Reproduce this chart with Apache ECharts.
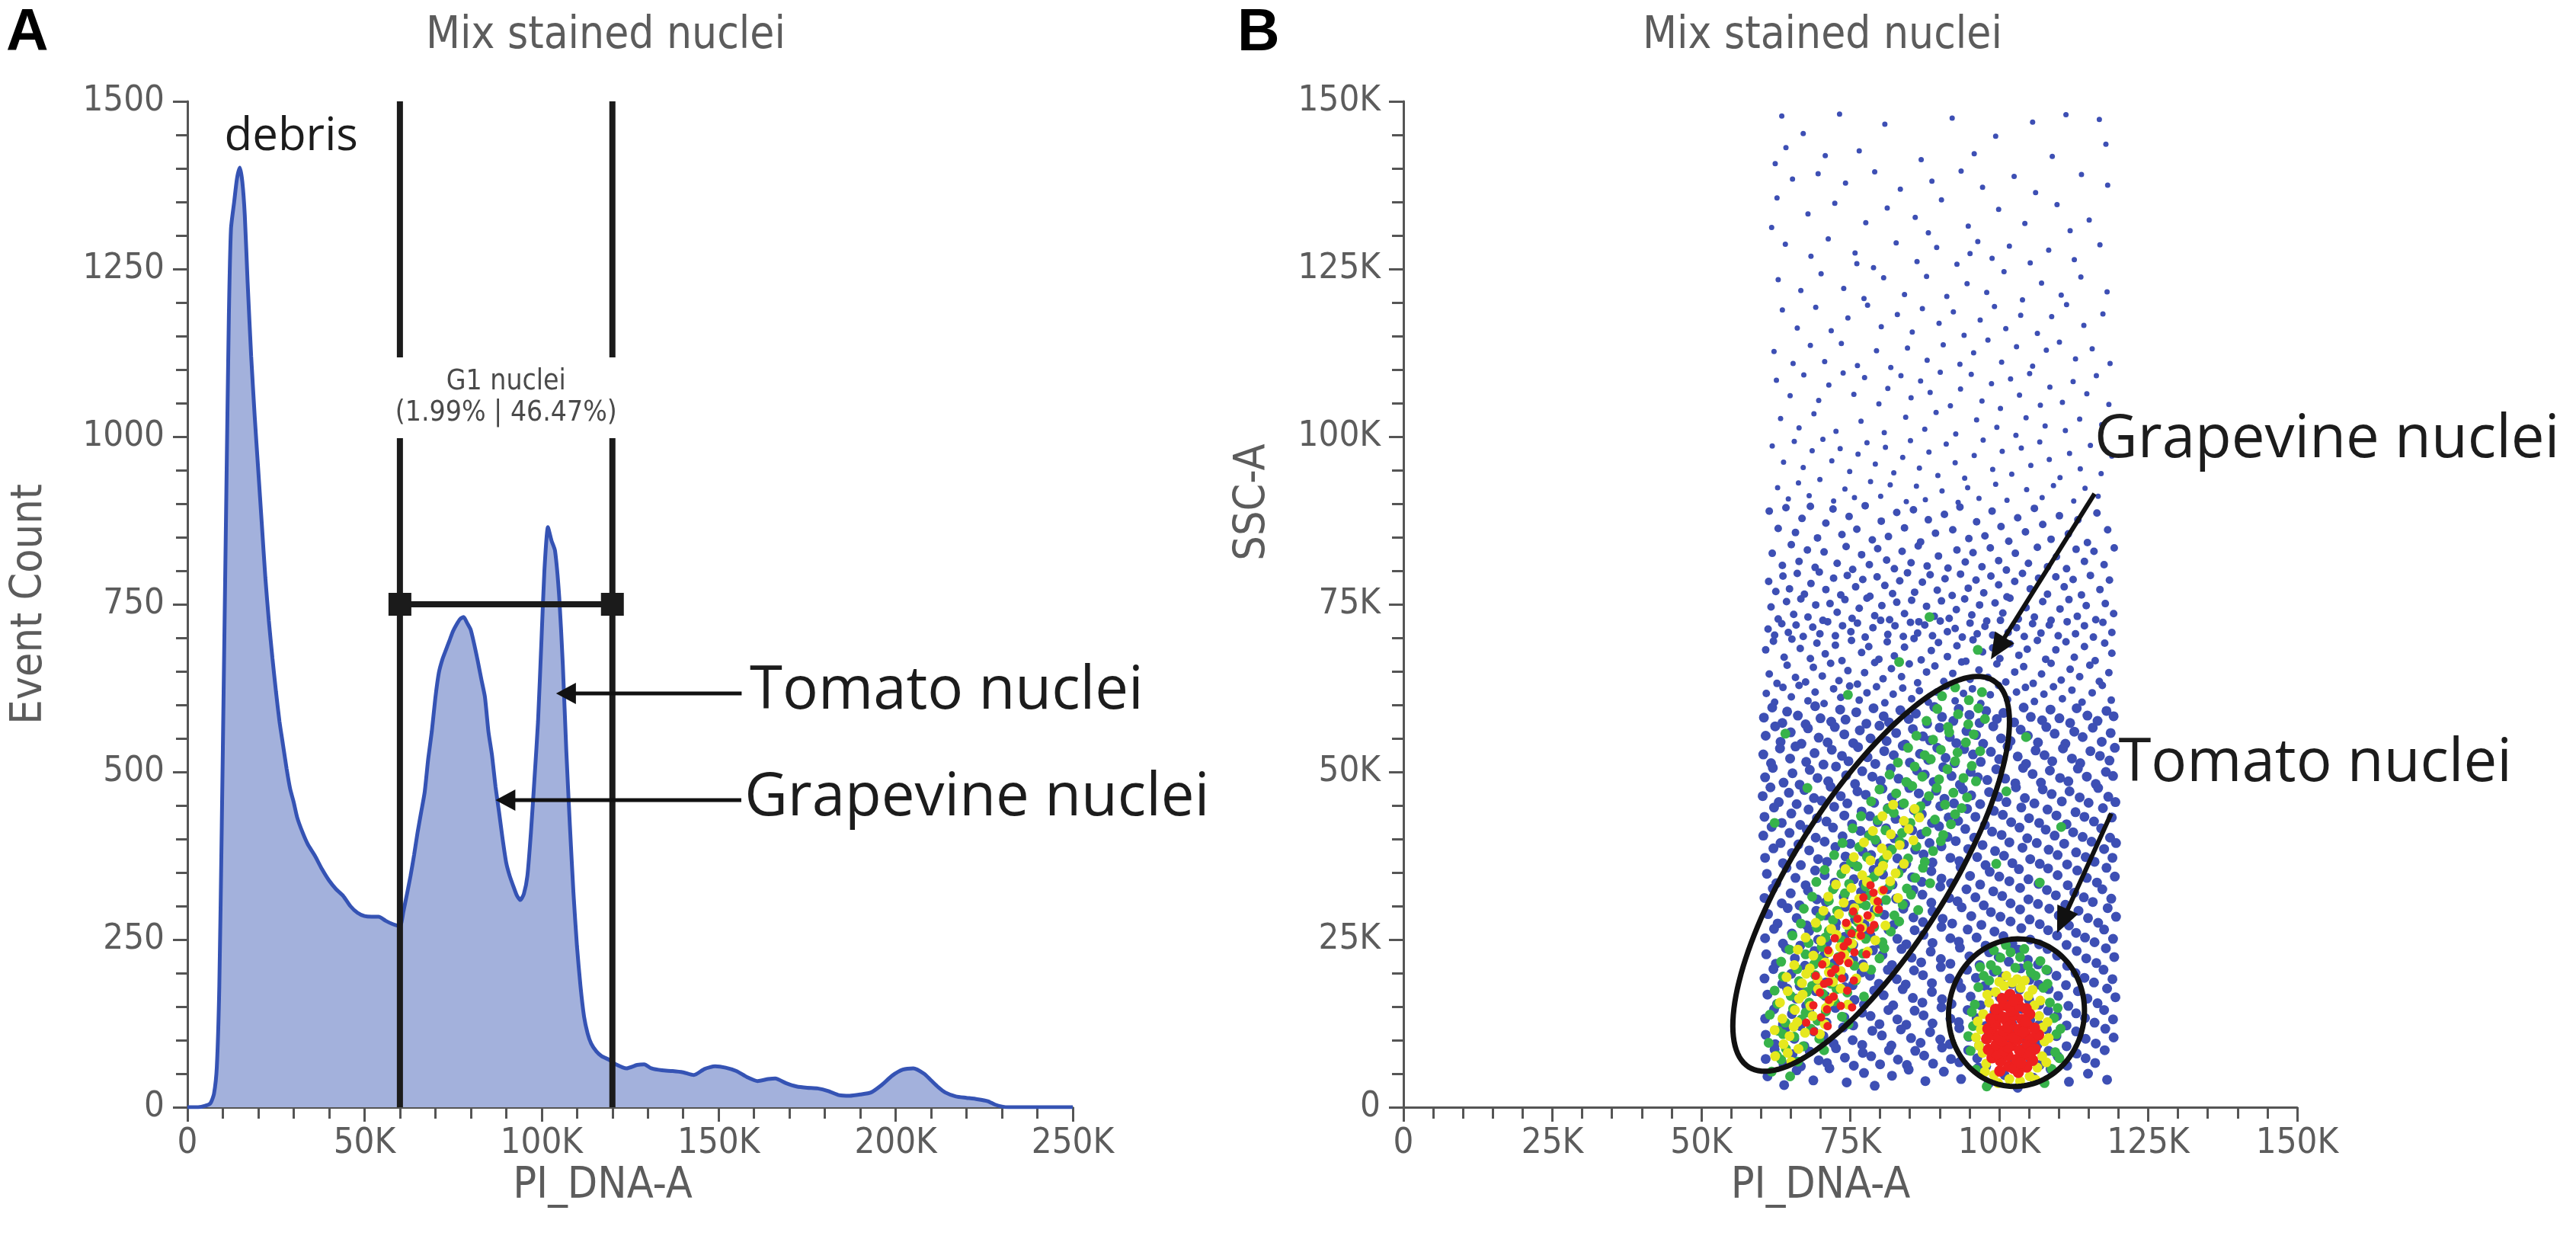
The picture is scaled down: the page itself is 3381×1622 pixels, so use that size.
<!DOCTYPE html>
<html>
<head>
<meta charset="utf-8">
<script src="https://cdn.jsdelivr.net/npm/echarts@6/dist/echarts.min.js"></script>
<style>
  html, body { margin: 0; padding: 0; background: #fff; }
  #main { width: 3381px; height: 1622px; }
</style>
</head>
<body>
<div id="main"></div>
<script>
// ---------- panel A : histogram (PI_DNA-A in K, event count) ----------
var histX = [0,3,5,6.5,7.5,8.3,9,9.7,10.3,11,
  11.7,12.3,13.2,14,14.8,15.5,16.2,17,18,19,
  20,21,22,23,24,25,26,27,28,29,
  30,31,32.5,34,36,38,40,42,44,46,
  48,50,52,54,56,58,60,61,62,63,
  64,65,66,67,68,69,70,71,72,73,
  74,75,76,77,78,79,80,81,82,83,
  84,85,86,87,88,89,90,91,92,93,
  94,95,96,97,98,99,100,100.8,101.8,102.8,
  103.8,105,106,107,108,109,110,111,112,113,
  114,115.5,117,119,121,124,127,129,131,134,
  137,140,143,146,149,152,155,158,161,164,
  166,169,172,175,178,181,184,187,190,193,
  196,199,202,205,208,210,212,214,217,220,
  223,226,228,230,232,250];
var histCount = [0,0,2,6,20,60,180,420,650,920,
  1180,1310,1350,1385,1401,1380,1330,1230,1120,1030,
  950,870,790,725,670,620,575,540,505,475,
  455,432,410,392,375,355,338,325,315,300,
  290,285,284,284,278,273,270,292,318,345,
  376,410,440,470,520,560,610,648,668,682,
  696,710,720,728,731,722,712,690,665,638,
  612,560,525,478,440,400,365,345,330,316,
  309,318,345,410,490,575,700,800,865,845,
  830,760,660,530,420,320,240,180,135,110,
  95,83,76,71,64,58,63,64,58,55,
  54,52,48,57,61,59,54,45,39,42,
  43,36,31,29,28,24,18,17,19,22,
  33,47,56,58,50,40,30,22,16,14,
  12,9,4,1,0,0];

var histTicksY = [0, 1500, 250];      // min, max, step
var histTicksX = [0, 250, 50];        // in K

// G1 gate: low, high, bar level, top
var gateG1 = [60, 120, 750, 1500];
var gateG1Label = 'G1 nuclei\n(1.99% | 46.47%)';
var gateG1LabelAt = [90, 1058];

var noteAText = ['debris', 'Tomato nuclei', 'Grapevine nuclei'];
var noteAX = [29.3, 158.8, 157.3];
var noteAY = [1447, 620, 460];
// arrows: x1, y1 (tail) -> x2, y2 (head)
var arrowsA = [[156.5, 617, 104.1, 617], [156.4, 458, 87.0, 458]];

// ---------- panel B : PI_DNA-A vs SSC-A dot plot (both in K) ----------
var dotTicks = [0, 150, 25];

var blueSparse = [
[63.5,147.8],[73.2,148.1],[80.8,146.6],[92.1,147.5],[105.6,146.9],[111.2,148],[67.1,145.2],[99.4,144.8],[116.8,147.3],[64.2,143.1],[76.5,142.6],[86.9,141.3],[62.4,140.7],[70.8,141.9],[95.8,142.2],[108.9,141.8],[117.9,143.6],
[65.3,138.4],[69.6,139.2],[74.2,137.8],[79.1,139.5],[83.4,136.9],[88.7,138.1],[93.6,139.6],[97.2,137.2],[102.5,138.8],[106.1,136.4],[113.8,139.1],[118.2,137.5],[62.7,135.6],[67.9,133.2],[72.4,134.8],[77.6,131.9],[81.2,134.1],[85.9,132.7],[90.3,135.3],[94.8,131.4],[99.9,133.9],[104.3,131.8],[109.7,134.6],[115.1,132.3],[61.8,131.2],[88.1,130.4],[111.9,130.7],
[64.1,128.7],[68.4,126.9],[71.3,129.5],[75.8,127.4],[78.9,125.2],[82.7,128.9],[86.2,126.1],[89.5,128.2],[92.9,125.7],[96.4,129.1],[98.8,126.6],[101.7,128.4],[105.2,125.9],[108.3,127.8],[112.6,126.4],[116.9,128.6],[62.9,123.4],[66.7,121.8],[70.1,124.3],[73.9,122.1],[77.3,120.6],[80.6,123.7],[84.1,121.2],[87.8,123.9],[91.2,120.9],[94.6,122.8],[97.9,121.5],[100.8,124.6],[103.9,120.4],[107.1,122.9],[110.4,121.1],[113.7,123.8],[118.1,121.6],[76.1,125.8],[95.1,127.3],
[63.6,118.9],[66.1,116.2],[69.2,119.3],[71.8,115.8],[74.6,117.7],[77.9,119.6],[80.2,116.4],[82.9,118.2],[85.4,115.6],[87.1,119.1],[89.9,116.9],[92.3,118.6],[94.1,115.1],[96.8,117.4],[99.2,119.4],[101.1,116.1],[103.6,118.1],[106.4,115.4],[108.8,117.9],[111.3,119.7],[114.2,116.6],[117.4,118.3],[62.2,112.7],[65.4,110.9],[68.3,113.6],[70.7,111.2],[73.5,113.9],[76.2,110.6],[79.4,112.8],[81.8,110.3],[84.6,113.2],[87.9,111.4],[90.6,113.7],[93.4,110.8],[95.7,112.5],[98.1,114.4],[100.4,111.1],[102.9,113.4],[105.6,110.5],[107.9,112.9],[110.1,114.1],[112.8,111.6],[115.6,113.1],[118.6,110.9],
[62.6,108.4],[64.9,106.1],[67.2,109.2],[69.7,105.4],[71.4,107.7],[73.8,109.5],[75.6,106.3],[77.4,108.8],[79.8,104.9],[81.3,107.2],[83.5,109.1],[85.2,105.8],[86.8,108.3],[88.4,106.6],[90.1,109.6],[91.8,104.6],[93.5,107.1],[95.3,109.3],[97.1,105.3],[98.7,107.9],[100.2,104.2],[101.9,108.6],[103.4,106.2],[105.1,109.4],[106.9,104.7],[108.5,107.4],[110.6,105.1],[112.4,108.2],[114.7,106.4],[116.3,109.1],[118.4,104.8],[63.3,102.7],[66.4,101.3],[68.9,103.4],[72.6,100.8],[76.8,102.3],[80.7,100.6],[84.3,102.9],[87.5,101.1],[89.4,103.6],[92.7,100.4],[96.2,102.5],[99.6,101.4],[102.8,100.2],[104.5,102.8],[107.7,101.6],[111.1,100.9],[113.5,102.6],[117.2,101.8],
[61.9,98.6],[63.8,96.2],[65.6,99.3],[67.1,95.4],[68.6,97.9],[70.4,99.6],[71.9,96.4],[73.3,98.2],[74.9,94.8],[76.3,97.4],[77.8,99.1],[79.2,95.9],[80.9,98.4],[82.3,94.6],[83.8,96.9],[85.1,99.4],[86.6,95.3],[88.2,97.7],[89.7,94.2],[91.1,98.9],[92.6,96.1],[94.2,93.8],[95.8,97.2],[97.3,99.5],[98.9,95.1],[100.5,97.8],[102.1,94.4],[103.7,98.3],[105.3,95.7],[106.8,99.2],[108.4,96.6],[110.2,93.9],[111.8,97.5],[113.6,95.2],[115.3,98.7],[117.1,94.5],[118.9,97.1],[62.8,92.4],[64.6,90.7],[66.3,93.1],[68.1,91.2],[69.9,93.6],[72.2,90.4],[74.1,92.2],[75.7,90.9],[78.4,93.3],[80.1,91.1],[81.7,92.8],[84.4,90.3],[86.1,92.6],[87.6,90.6],[90.4,91.9],[93.1,90.2],[94.7,92.4],[96.6,90.8],[99.4,92.9],[101.3,90.5],[104.6,92.1],[107.2,90.9],[109.1,92.7],[112.5,90.4],[114.4,92.3],[116.6,91.1]
];

var blueMid = [
[61.4,88.9],[62.9,86.3],[64.2,89.4],[65.8,85.7],[66.9,87.8],[68.3,89.6],[69.5,84.9],[70.9,87.1],[72.1,89.2],[73.6,85.4],[74.8,88.1],[76.1,86.2],[77.5,89.7],[78.7,84.6],[80.2,87.4],[81.4,85.1],[82.8,88.7],[84.1,86.4],[85.6,89.1],[86.8,84.3],[88.1,87.6],[89.3,85.6],[90.8,88.4],[92.2,86.1],[93.4,89.5],[94.9,84.8],[96.2,87.3],[97.6,85.2],[98.8,88.9],[100.3,86.6],[101.6,84.4],[103.1,87.9],[104.4,85.8],[105.9,89.3],[107.3,86.9],[108.7,84.7],[110.1,88.2],[111.6,85.5],[113.2,87.6],[114.8,84.2],[116.4,88.6],[118.2,86.1],[119.3,83.4],
[61.9,82.6],[63.6,80.8],[65.1,83.9],[66.4,81.4],[67.8,83.1],[69.1,80.5],[70.6,82.8],[72.8,81.1],[74.3,83.6],[75.4,80.2],[76.9,82.4],[78.2,80.9],[79.6,83.3],[81.1,81.6],[82.4,80.3],[83.7,82.9],[85.2,81.2],[86.4,83.7],[87.9,80.7],[89.8,82.2],[91.4,80.4],[92.9,83.1],[94.3,81.3],[95.6,82.7],[97.1,80.6],[98.5,83.4],[99.9,81.5],[101.2,80.1],[102.7,82.6],[104.9,81.1],[106.4,83.5],[108.1,80.6],[109.6,82.1],[111.3,80.3],[112.9,83.2],[114.3,81.4],[115.9,82.9],[117.6,80.9],
[61.3,78.4],[62.5,76.9],[63.7,79.2],[64.8,77.3],[66.1,79.6],[67.3,76.5],[68.4,78.1],[69.8,79.8],[70.9,77.2],[72.2,78.9],[73.4,76.4],[74.5,79.3],[75.9,77.6],[77.1,78.7],[78.3,76.2],[79.5,79.1],[80.8,77.8],[82.1,76.6],[83.3,78.5],[84.6,79.7],[85.8,76.8],[87.1,78.3],[88.4,79.4],[89.6,77.1],[90.9,78.8],[92.1,76.3],[93.5,79.5],[94.8,77.4],[96.1,78.6],[97.4,76.7],[98.6,79.2],[99.9,77.9],[101.3,76.1],[102.6,78.4],[103.9,79.6],[105.2,77.3],[106.6,78.9],[108.1,76.5],[109.5,79.1],[110.9,77.6],[112.4,78.7],[113.8,76.4],[115.3,79.3],[116.9,77.2],[118.5,78.6],
[61.7,74.6],[62.9,72.8],[64.3,75.4],[65.5,73.5],[66.7,75.8],[67.9,73.1],[69.2,74.9],[70.4,72.6],[71.6,75.1],[72.8,73.8],[74.1,75.7],[75.3,72.9],[76.5,74.4],[77.8,75.9],[79.1,73.3],[80.3,74.8],[81.6,72.7],[82.8,75.3],[84.1,73.6],[85.3,75.6],[86.5,72.4],[87.8,74.7],[89.1,73.2],[90.3,75.5],[91.6,72.9],[92.8,74.2],[94.2,75.8],[95.4,73.4],[96.7,74.9],[97.9,72.5],[99.3,75.2],[100.6,73.7],[101.8,75.9],[103.2,72.8],[104.5,74.5],[105.9,73.1],[107.3,75.4],[108.7,72.6],[110.2,74.3],[111.7,75.7],[113.1,73.2],[114.6,74.8],[116.2,72.7],[117.8,75.1],[119.2,73.6],
[61.2,71.3],[62.3,70.4],[63.5,72.1],[64.6,70.8],[65.9,71.9],[67.1,70.2],[68.7,71.6],[69.9,70.6],[71.2,72.4],[72.5,70.3],[73.7,71.8],[75.1,70.9],[76.2,72.2],[77.5,70.1],[78.8,71.5],[80.1,72.6],[81.3,70.5],[82.5,71.8],[83.9,70.2],[85.1,72.3],[86.3,70.7],[87.5,71.9],[88.8,70.3],[90.1,72.5],[91.3,70.9],[92.6,71.4],[93.8,70.1],[95.1,72.2],[96.3,70.6],[97.6,71.7],[98.9,70.4],[100.2,72.6],[101.5,70.8],[102.9,71.5],[104.2,70.2],[105.6,72.1],[107.0,70.7],[108.4,71.9],[109.9,70.3],[111.4,72.4],[112.8,70.6],[114.3,71.8],[115.8,70.1],[117.4,72.3],[118.9,70.8],
[60.8,68.2],[62.1,69.5],[63.9,67.1],[65.2,69.8],[66.6,68.4],[68.3,66.9],[69.4,69.2],[70.8,67.6],[72.5,68.9],[73.6,66.6],[75.2,69.6],[76.9,67.8],[78.1,68.7],[79.8,66.8],[81.2,69.4],[82.4,67.3],[84.1,68.6],[85.7,69.9],[86.9,66.7],[88.6,68.1],[89.8,69.3],[91.3,67.2],[92.9,68.8],[94.4,66.5],[95.6,69.7],[97.2,67.9],[98.9,68.5],[100.1,66.9],[101.8,69.1],[103.3,67.4],[104.7,68.3],[106.4,69.6],[107.8,66.8],[109.5,68.2],[111.2,69.4],[112.6,67.1],[114.3,68.7],[116.1,66.6],[117.7,69.2],[118.9,67.7],
[61.4,64.6],[62.7,63.2],[64.4,65.9],[65.8,64.1],[67.5,63.4],[68.8,65.6],[70.3,64.3],[71.7,66.2],[73.1,63.6],[74.6,65.1],[76.2,63.1],[77.4,64.8],[79.1,66.3],[80.5,63.9],[81.9,65.4],[83.6,64.2],[84.9,66.1],[86.3,63.3],[87.8,64.9],[89.2,65.8],[90.7,63.5],[92.2,64.7],[93.7,66.4],[95.1,63.8],[96.6,65.2],[98.1,64.1],[99.6,66.1],[101.1,63.4],[102.6,64.9],[104.1,65.7],[105.7,63.2],[107.1,64.6],[108.7,66.2],[110.4,63.7],[111.9,65.3],[113.5,64.2],[115.2,65.9],[116.8,63.5],[118.4,64.8],
[60.9,61.7],[62.3,60.4],[63.7,62.6],[65.1,61.2],[66.4,62.9],[67.9,60.6],[69.1,61.9],[70.6,60.2],[72.2,62.4],[73.4,61.1],[74.9,62.8],[76.5,60.7],[77.8,61.8],[79.4,62.7],[80.8,60.3],[82.2,61.6],[83.8,62.5],[85.3,60.9],[86.6,62.1],[88.1,60.4],[89.5,61.9],[91.1,62.8],[92.6,60.6],[94.0,61.7],[95.5,62.4],[96.9,60.2],[98.5,61.5],[99.9,62.9],[101.4,60.8],[102.9,61.9],[104.4,62.6],[105.9,60.5],[107.5,61.6],[109.1,62.7],[110.6,60.9],[112.2,62.2],[113.9,60.4],[115.6,61.8],[117.3,62.9],[118.8,60.7]
];

var blueDense = [
[60.5,58.1],[61.9,59.6],[63.6,57.3],[64.4,59.0],[66.2,58.4],[67.5,57.1],[69.1,59.8],[70.0,58.0],[71.8,57.5],[73.3,59.3],[74.2,57.8],[76.0,58.9],[77.7,57.2],[78.9,59.5],[80.6,58.3],[81.5,57.4],[83.4,59.2],[84.8,57.9],[86.0,58.7],[87.9,57.2],[89.1,59.7],[90.4,58.2],[92.3,57.6],[93.2,59.4],[95.0,58.5],[96.7,57.3],[97.8,59.1],[99.6,57.9],[100.7,58.8],[102.5,57.4],[104.1,59.6],[105.3,58.2],[107.2,57.7],[108.6,59.3],[110.1,58.0],[111.9,57.3],[113.0,59.5],[114.8,58.4],[116.5,57.6],[118.0,59.1],[119.2,58.3],
[60.8,55.4],[62.4,56.8],[63.3,54.5],[65.0,55.9],[66.8,54.2],[67.9,56.5],[69.7,55.1],[71.2,54.4],[72.4,56.7],[74.0,55.6],[75.5,54.3],[76.6,56.2],[78.4,55.0],[79.9,56.9],[81.1,54.6],[82.7,55.8],[84.2,54.1],[85.5,56.4],[87.2,55.3],[88.4,54.7],[90.0,56.6],[91.7,55.2],[92.8,54.3],[94.5,56.1],[96.1,55.5],[97.3,54.2],[99.0,56.8],[100.3,55.0],[101.9,54.6],[103.6,56.3],[104.8,55.4],[106.5,54.4],[107.9,56.7],[109.3,55.7],[111.1,54.2],[112.6,56.0],[114.0,55.2],[115.7,56.6],[117.2,54.5],[118.7,55.8],
[60.4,52.6],[61.7,51.3],[63.2,53.5],[64.9,52.0],[65.8,53.8],[67.6,51.5],[69.0,52.8],[70.5,51.1],[71.9,53.3],[73.6,52.4],[74.7,51.6],[76.3,53.7],[77.9,52.2],[79.2,51.2],[80.7,53.1],[82.3,52.5],[83.8,53.9],[85.0,51.4],[86.7,52.7],[88.1,51.8],[89.6,53.6],[91.0,52.1],[92.5,51.3],[94.1,53.4],[95.6,52.6],[96.9,51.5],[98.6,53.0],[100.0,51.9],[101.4,53.8],[103.1,52.3],[104.5,51.2],[106.1,53.2],[107.6,52.5],[108.9,51.6],[110.7,53.5],[112.2,52.0],[113.6,51.3],[115.3,53.1],[116.9,52.4],[118.5,51.7],[119.4,53.6],
[60.7,49.2],[62.0,50.6],[63.8,48.4],[65.3,49.8],[66.5,48.1],[68.2,50.3],[69.5,49.1],[71.3,48.6],[72.6,50.8],[74.3,49.5],[75.8,48.2],[77.0,50.1],[78.7,49.3],[80.1,48.7],[81.8,50.5],[83.1,49.0],[84.6,48.3],[86.2,50.2],[87.5,49.6],[89.0,48.5],[90.6,50.7],[92.0,49.4],[93.4,48.1],[95.2,50.0],[96.4,49.2],[98.0,48.8],[99.5,50.4],[101.0,49.0],[102.7,48.3],[104.0,50.6],[105.6,49.7],[107.0,48.4],[108.5,50.2],[110.2,49.1],[111.6,48.6],[113.2,50.5],[114.7,49.3],[116.2,48.2],[117.9,50.0],[119.1,49.4],
[60.3,46.4],[61.6,47.7],[63.0,45.5],[64.7,46.9],[66.0,45.2],[67.3,47.3],[68.9,46.1],[70.2,45.7],[71.7,47.8],[73.4,46.4],[74.5,45.3],[76.2,47.1],[77.6,46.6],[79.0,45.4],[80.4,47.5],[82.0,46.2],[83.6,45.1],[84.9,47.6],[86.5,46.8],[87.8,45.6],[89.4,47.2],[90.8,46.0],[92.4,45.3],[93.9,47.4],[95.3,46.5],[96.8,45.2],[98.3,47.0],[99.8,46.3],[101.2,45.5],[102.8,47.7],[104.3,46.1],[105.9,45.3],[107.3,47.4],[108.8,46.7],[110.5,45.6],[111.8,47.1],[113.5,46.2],[115.0,45.4],[116.6,47.6],[118.3,46.3],[119.5,45.5],
[60.6,43.3],[62.2,44.7],[63.5,42.4],[65.1,43.8],[66.6,42.1],[68.0,44.4],[69.4,43.1],[71.0,42.6],[72.3,44.8],[74.0,43.5],[75.3,42.2],[76.9,44.1],[78.3,43.4],[79.6,42.5],[81.3,44.6],[82.6,43.0],[84.3,42.3],[85.7,44.3],[87.0,43.7],[88.7,42.4],[90.1,44.9],[91.5,43.2],[93.1,42.7],[94.6,44.5],[96.0,43.3],[97.6,42.1],[99.1,44.2],[100.6,43.6],[102.0,42.5],[103.7,44.7],[105.0,43.1],[106.7,42.4],[108.1,44.4],[109.6,43.5],[111.3,42.2],[112.8,44.0],[114.3,43.3],[115.9,42.6],[117.4,44.6],[118.9,43.2],
[60.4,40.5],[61.8,41.8],[63.3,39.4],[64.8,40.9],[66.3,39.2],[67.7,41.4],[69.2,40.2],[70.7,39.6],[72.1,41.7],[73.7,40.4],[75.0,39.3],[76.7,41.2],[78.1,40.6],[79.4,39.5],[81.0,41.6],[82.4,40.1],[84.0,39.2],[85.4,41.3],[86.9,40.7],[88.3,39.4],[89.9,41.9],[91.3,40.3],[92.7,39.7],[94.3,41.5],[95.8,40.2],[97.2,39.1],[98.8,41.1],[100.4,40.6],[101.7,39.5],[103.4,41.7],[104.7,40.1],[106.3,39.4],[107.8,41.4],[109.3,40.5],[110.9,39.3],[112.4,41.0],[114.0,40.3],[115.5,39.6],[117.1,41.6],[118.6,40.2],[119.6,39.4],
[60.7,37.2],[62.1,38.6],[63.7,36.4],[65.2,37.9],[66.7,36.1],[68.1,38.3],[69.6,37.0],[71.1,36.6],[72.5,38.8],[74.2,37.4],[75.6,36.2],[77.1,38.1],[78.5,37.6],[79.9,36.4],[81.5,38.6],[82.9,37.1],[84.4,36.3],[85.9,38.4],[87.3,37.7],[88.8,36.5],[90.3,38.9],[91.8,37.2],[93.3,36.7],[94.8,38.5],[96.3,37.3],[97.7,36.1],[99.3,38.2],[100.8,37.5],[102.2,36.4],[103.9,38.7],[105.2,37.0],[106.8,36.3],[108.3,38.4],[109.8,37.6],[111.4,36.2],[112.9,38.0],[114.5,37.3],[116.0,36.6],[117.6,38.5],[119.0,37.2],
[61.0,34.8],[62.6,33.4],[64.3,35.7],[65.8,34.2],[67.5,33.1],[69.1,35.3],[70.7,34.6],[72.4,33.5],[74.0,35.9],[75.6,34.0],[77.2,33.3],[78.9,35.4],[80.5,34.7],[82.1,33.2],[83.7,35.6],[85.4,34.3],[87.0,33.6],[88.6,35.2],[90.3,34.1],[91.9,33.4],[93.5,35.8],[95.1,34.5],[96.8,33.2],[98.4,35.1],[100.0,34.4],[101.7,33.7],[103.3,35.5],[104.9,34.0],[106.6,33.3],[108.2,35.6],[109.8,34.6],[111.5,33.1],[113.1,35.3],[114.7,34.2],[116.4,33.5],[118.0,35.7],[119.4,34.4],
[60.6,31.2],[62.0,32.6],[63.5,30.4],[65.0,31.9],[66.5,30.1],[67.9,32.3],[69.4,31.0],[70.9,30.6],[72.3,32.8],[73.9,31.4],[75.3,30.2],[76.8,32.1],[78.2,31.6],[79.7,30.4],[81.2,32.5],[82.7,31.1],[84.2,30.3],[85.6,32.4],[87.1,31.7],[88.6,30.5],[90.1,32.9],[91.6,31.2],[93.0,30.7],[94.5,32.5],[96.0,31.3],[97.4,30.1],[99.0,32.2],[100.5,31.5],[101.9,30.4],[103.5,32.7],[104.9,31.0],[106.5,30.3],[108.0,32.4],[109.5,31.6],[111.1,30.2],[112.6,32.0],[114.2,31.3],[115.7,30.6],[117.3,32.5],[118.8,31.1],
[61.2,28.8],[62.8,27.4],[64.5,29.7],[66.0,28.2],[67.7,27.1],[69.3,29.3],[70.9,28.6],[72.6,27.5],[74.2,29.9],[75.8,28.0],[77.4,27.3],[79.1,29.4],[80.7,28.7],[82.3,27.2],[83.9,29.6],[85.6,28.3],[87.2,27.6],[88.8,29.2],[90.5,28.1],[92.1,27.4],[93.7,29.8],[95.3,28.5],[97.0,27.2],[98.6,29.1],[100.2,28.4],[101.9,27.7],[103.5,29.5],[105.1,28.0],[106.8,27.3],[108.4,29.6],[110.0,28.6],[111.7,27.1],[113.3,29.3],[114.9,28.2],[116.6,27.5],[118.2,29.7],[119.6,28.4],
[60.7,25.2],[62.2,26.6],[63.7,24.4],[65.2,25.9],[66.6,24.1],[68.1,26.3],[69.6,25.0],[71.1,24.6],[72.5,26.8],[74.0,25.4],[75.5,24.2],[77.0,26.1],[78.4,25.6],[79.9,24.4],[81.4,26.5],[82.9,25.1],[84.4,24.3],[85.8,26.4],[87.3,25.7],[88.8,24.5],[90.3,26.9],[91.8,25.2],[93.2,24.7],[94.7,26.5],[96.2,25.3],[97.7,24.1],[99.2,26.2],[100.7,25.5],[102.2,24.4],[103.7,26.7],[105.2,25.0],[106.7,24.3],[108.2,26.4],[109.7,25.6],[111.3,24.2],[112.9,26.0],[114.4,25.3],[116.0,24.6],[117.6,26.5],[119.1,25.1],
[60.9,22.8],[62.5,21.4],[64.2,23.7],[65.7,22.2],[67.4,21.1],[69.0,23.3],[70.6,22.6],[72.3,21.5],[73.9,23.9],[75.5,22.0],[77.1,21.3],[78.8,23.4],[80.4,22.7],[82.0,21.2],[83.6,23.6],[85.3,22.3],[86.9,21.6],[88.5,23.2],[90.2,22.1],[91.8,21.4],[93.4,23.8],[95.0,22.5],[96.7,21.2],[98.3,23.1],[99.9,22.4],[101.6,21.7],[103.2,23.5],[104.8,22.0],[106.5,21.3],[108.1,23.6],[109.7,22.6],[111.4,21.1],[113.0,23.3],[114.6,22.2],[116.3,21.5],[117.9,23.7],[119.3,22.4],
[60.6,19.2],[62.1,20.6],[63.6,18.4],[65.1,19.9],[66.5,18.1],[68.0,20.3],[69.5,19.0],[70.9,18.6],[72.4,20.8],[73.9,19.4],[75.4,18.2],[76.9,20.1],[78.3,19.6],[79.8,18.4],[81.3,20.5],[82.8,19.1],[84.3,18.3],[85.7,20.4],[87.2,19.7],[88.7,18.5],[90.2,20.9],[91.7,19.2],[93.1,18.7],[94.6,20.5],[96.1,19.3],[97.6,18.1],[99.1,20.2],[100.6,19.5],[102.1,18.4],[103.6,20.7],[105.1,19.0],[106.6,18.3],[108.1,20.4],[109.6,19.6],[111.2,18.2],[112.8,20.0],[114.3,19.3],[115.9,18.6],[117.5,20.5],[119.0,19.1],
[61.1,16.8],[62.7,15.4],[64.4,17.7],[65.9,16.2],[67.6,15.1],[69.2,17.3],[70.8,16.6],[72.5,15.5],[74.1,17.9],[75.7,16.0],[77.3,15.3],[79.0,17.4],[80.6,16.7],[82.2,15.2],[83.8,17.6],[85.5,16.3],[87.1,15.6],[88.7,17.2],[90.4,16.1],[92.0,15.4],[93.6,17.8],[95.2,16.5],[96.9,15.2],[98.5,17.1],[100.1,16.4],[101.8,15.7],[103.4,17.5],[105.0,16.0],[106.7,15.3],[108.3,17.6],[109.9,16.6],[111.6,15.1],[113.2,17.3],[114.8,16.2],[116.5,15.5],[118.1,17.7],[119.5,16.4],
[60.7,13.2],[62.2,14.6],[63.7,12.4],[65.2,13.9],[66.6,12.1],[68.1,14.3],[69.6,13.0],[71.0,12.6],[72.5,14.8],[74.0,13.4],[75.5,12.2],[77.0,14.1],[78.4,13.6],[79.9,12.4],[81.4,14.5],[82.9,13.1],[84.4,12.3],[85.8,14.4],[87.3,13.7],[88.8,12.5],[90.3,14.9],[91.8,13.2],[93.2,12.7],[94.7,14.5],[96.2,13.3],[97.7,12.1],[99.2,14.2],[100.7,13.5],[102.2,12.4],[103.7,14.7],[105.2,13.0],[106.7,12.3],[108.2,14.4],[109.7,13.6],[111.3,12.2],[112.9,14.0],[114.4,13.3],[116.0,12.6],[117.6,14.5],[119.1,13.1],
[60.8,10.8],[62.4,9.4],[64.1,11.7],[65.6,10.2],[67.3,9.1],[68.9,11.3],[70.5,10.6],[72.2,9.5],[73.8,11.9],[75.4,10.0],[77.0,9.3],[78.7,11.4],[80.3,10.7],[81.9,9.2],[83.5,11.6],[85.2,10.3],[86.8,9.6],[88.4,11.2],[90.1,10.1],[91.7,9.4],[93.3,11.8],[94.9,10.5],[96.6,9.2],[98.2,11.1],[99.8,10.4],[101.5,9.7],[103.1,11.5],[104.7,10.0],[106.4,9.3],[108.0,11.6],[109.6,10.6],[111.3,9.1],[112.9,11.3],[114.5,10.2],[116.2,9.5],[117.8,11.7],[119.2,10.4],
[60.8,7.2],[62.3,8.6],[63.8,6.4],[65.3,7.9],[66.7,6.1],[68.2,8.3],[69.7,7.0],[71.1,6.6],[72.6,8.8],[74.1,7.4],[75.6,6.2],[77.1,8.1],[78.5,7.6],[80.0,6.4],[81.5,8.5],[83.0,7.1],[84.5,6.3],[85.9,8.4],[87.4,7.7],[88.9,6.5],[90.4,8.9],[91.9,7.2],[93.3,6.7],[94.8,8.5],[96.3,7.3],[97.8,6.1],[99.3,8.2],[100.8,7.5],[102.3,6.4],[103.8,8.7],[105.3,7.0],[106.8,6.3],[108.3,8.4],[109.8,7.6],[111.4,6.2],[113.0,8.0],[114.5,7.3],[116.1,6.6],[117.7,8.5],
[61.1,4.6],[63.9,3.3],[66.0,5.5],[68.8,4.0],[71.5,5.8],[74.4,3.7],[77.3,5.1],[79.1,3.2],[82.0,4.7],[84.8,5.6],[87.6,3.9],[90.7,5.3],[93.6,4.2],[96.5,5.9],[98.2,3.5],[100.9,4.8],[103.1,2.9],[105.7,4.4],[108.6,5.7],[111.7,3.8],[114.9,5.0],[118.1,4.1]
];

var greenGrape = [
[61.8,5.3],[63.4,7.1],[64.9,4.6],[66.2,6.8],[62.7,7.7],
[61.3,9.6],[62.9,11.4],[64.2,8.7],[65.6,10.5],[67.1,9.1],[68.4,11.7],[69.8,10.2],[70.6,8.5],[63.7,10.9],
[61.5,13.8],[62.8,15.4],[64.1,12.6],[65.4,14.7],[66.8,13.1],[68.1,15.6],[69.5,12.9],[70.9,14.3],[72.3,15.8],[73.6,13.5],[74.7,12.4],[67.5,14.1],
[62.3,17.4],[63.7,19.5],[65.0,16.6],[66.4,18.8],[67.7,17.2],[69.1,19.7],[70.4,16.9],[71.8,18.4],[73.2,19.6],[74.5,17.1],[75.9,18.9],[77.3,16.5],[68.6,18.1],[72.7,17.6],
[63.4,21.7],[64.8,23.5],[66.1,20.6],[67.5,22.8],[68.9,21.3],[70.2,23.9],[71.6,20.9],[73.0,22.4],[74.4,23.6],[75.7,21.1],[77.1,22.9],[78.5,20.5],[79.9,22.2],[80.7,23.7],[69.6,22.1],
[65.3,25.6],[66.7,27.4],[68.0,24.5],[69.4,26.8],[70.8,25.3],[72.1,27.9],[73.5,24.9],[74.9,26.4],[76.3,27.6],[77.6,25.1],[79.0,26.9],[80.4,24.6],[81.8,26.2],[83.2,27.7],[71.4,26.3],[75.6,25.9],
[67.2,29.6],[68.6,31.4],[70.0,28.5],[71.4,30.8],[72.8,29.3],[74.1,31.9],[75.5,28.9],[76.9,30.4],[78.3,31.6],[79.6,29.1],[81.0,30.9],[82.4,28.6],[83.8,30.2],[85.2,31.7],[86.4,29.4],[77.6,30.1],
[69.3,33.6],[70.7,35.4],[72.1,32.5],[73.5,34.8],[74.8,33.3],[76.2,35.9],[77.6,32.9],[79.0,34.4],[80.3,35.6],[81.7,33.1],[83.1,34.9],[84.5,32.6],[85.9,34.2],[87.2,35.7],[88.4,33.4],[78.2,33.8],
[72.3,37.6],[73.7,39.4],[75.1,36.5],[76.5,38.8],[77.8,37.3],[79.2,39.9],[80.6,36.9],[82.0,38.4],[83.3,39.6],[84.7,37.1],[86.1,38.9],[87.5,36.6],[88.9,38.2],[90.2,39.7],[81.3,37.8],
[75.4,41.6],[76.8,43.4],[78.2,40.5],[79.6,42.8],[80.9,41.3],[82.3,43.9],[83.7,40.9],[85.1,42.4],[86.4,43.6],[87.8,41.1],[89.2,42.9],[90.6,40.6],[91.9,42.2],[92.6,43.7],
[78.5,45.6],[79.9,47.4],[81.3,44.5],[82.7,46.8],[84.0,45.3],[85.4,47.9],[86.8,44.9],[88.2,46.4],[89.5,47.6],[90.9,45.1],[92.3,46.9],[93.7,44.6],[94.6,46.2],
[81.6,49.6],[83.0,51.4],[84.4,48.5],[85.8,50.8],[87.1,49.3],[88.5,51.9],[89.9,48.9],[91.3,50.4],[92.6,51.6],[94.0,49.1],[95.4,50.9],[96.1,48.6],
[84.7,53.6],[86.1,55.4],[87.5,52.5],[88.9,54.8],[90.2,53.3],[91.6,55.9],[93.0,52.9],[94.4,54.4],[95.7,55.6],[96.8,53.1],
[87.8,57.6],[89.6,59.4],[91.4,56.7],[93.1,58.6],[94.8,57.1],[96.5,59.5],[97.6,57.9],
[90.4,61.3],[92.6,62.6],[94.9,60.7],[97.1,61.9],
[62.3,42.4],[64.1,55.7],[99.5,36.3],[101.2,47.1],[106.8,33.5],[96.4,68.2],[88.3,73.1],[74.6,61.5],[110.4,41.8],[104.5,55.2],[67.8,47.6],[83.2,66.4]
];

var yellowGrape = [
[62.4,7.6],[63.8,9.4],[65.1,6.8],[66.3,8.7],[64.5,8.1],
[62.3,11.5],[63.6,13.2],[64.8,10.6],[66.1,12.7],[67.4,11.1],[68.7,13.6],[69.9,10.9],[70.7,12.4],[65.5,12.0],
[63.2,15.6],[64.5,17.3],[65.7,14.5],[67.0,16.8],[68.3,15.1],[69.6,17.6],[70.9,14.8],[72.1,16.4],[73.4,17.7],[74.6,15.3],[66.4,16.2],[71.5,15.7],
[64.3,19.4],[65.6,21.2],[66.9,18.5],[68.2,20.7],[69.5,19.1],[70.8,21.6],[72.1,18.7],[73.4,20.3],[74.7,21.7],[76.0,19.2],[77.3,20.9],[67.6,19.9],[71.4,20.1],
[66.2,23.5],[67.5,25.3],[68.8,22.6],[70.1,24.8],[71.4,23.1],[72.7,25.7],[74.0,22.8],[75.3,24.4],[76.6,25.6],[77.9,23.2],[79.2,24.9],[73.3,23.9],
[69.2,27.5],[70.5,29.3],[71.8,26.6],[73.1,28.8],[74.4,27.2],[75.7,29.7],[77.0,26.8],[78.3,28.4],[79.6,29.6],[80.9,27.1],[76.4,28.0],
[71.3,31.4],[72.6,33.2],[73.9,30.5],[75.2,32.7],[76.5,31.1],[77.8,33.6],[79.1,30.8],[80.4,32.3],[81.7,33.7],[83.0,31.2],
[74.2,35.5],[75.6,37.3],[77.0,34.6],[78.4,36.8],[79.8,35.2],[81.2,37.6],[82.6,34.9],[84.0,36.3],[80.5,36.0],
[77.3,39.5],[78.8,41.2],[80.3,38.6],[81.8,40.7],[83.3,39.1],[84.8,41.5],[85.6,39.8],
[80.4,43.4],[82.2,45.1],[84.0,42.7],[85.8,44.5],[86.6,43.2]
];

var redGrape = [
[67.6,12.6],[68.9,11.3],[70.1,13.4],[71.2,12.1],
[68.8,15.2],[69.9,17.1],[71.1,14.6],[72.2,16.5],[73.4,15.1],[74.5,17.4],[75.3,14.9],[71.4,16.0],
[69.2,19.6],[70.3,21.3],[71.4,18.7],[72.5,20.6],[73.6,19.2],[74.7,21.5],[75.6,18.9],[71.8,20.0],[73.2,21.8],[70.6,18.4],
[71.3,23.4],[72.4,25.2],[73.5,22.6],[74.6,24.7],[75.7,23.1],[76.8,25.6],[77.7,22.8],[73.9,24.0],[75.2,25.9],[72.8,22.3],
[74.3,27.5],[75.5,29.2],[76.7,26.7],[77.9,28.6],[79.0,27.2],[79.8,29.5],[76.2,28.1],[78.4,26.4],
[77.2,31.3],[78.4,33.1],[79.6,30.7],[80.6,32.4],[78.9,32.0]
];

var greenTomato = [
[95.2,8.4],[95.6,12.1],[95.9,15.3],[96.5,17.9],[97.4,19.6],[98.6,21.2],[100.2,22.3],[101.9,23.1],[103.5,22.4],[104.8,21.1],[106.1,19.6],[107.4,17.8],[108.5,15.6],[109.2,13.3],[109.6,10.9],[109.4,8.2],[108.8,5.7],[107.6,3.6],[96.1,5.6],[97.9,3.1],[99.6,20.4],[102.7,20.8],[105.3,20.1],[108.1,18.4],[109.8,14.8],[110.3,11.7],[94.8,10.6],[96.8,20.9],[101.1,24.2],[104.2,23.6],[106.9,21.8],[98.3,18.9],[107.9,20.5],[95.4,14.2],[110.1,7.3],[99.1,23.4]
];

var yellowTomato = [
[96.6,9.2],[96.9,11.6],[97.3,13.9],[97.8,6.5],[98.3,15.6],[99.1,4.8],[99.4,17.2],[100.8,18.1],[102.2,18.6],[103.6,17.8],[104.9,16.6],[105.9,15.2],[106.7,13.6],[107.3,11.9],[107.6,9.8],[107.2,7.6],[106.4,5.9],[105.1,4.6],[103.5,3.9],[101.7,4.2],[97.2,8.1],[96.4,12.8],[98.0,16.8],[100.0,18.7],[103.0,19.1],[105.6,17.5],[106.9,15.9],[108.1,12.7],[108.3,10.3],[107.9,6.7],[106.1,4.1],[97.6,5.3],[99.8,3.6],[96.1,10.4],[101.2,19.6],[104.3,18.9]
];

var redTomato = [
[100.1,5.4],[101.6,6.1],[103.2,5.2],[104.6,6.0],[102.4,5.8],
[98.8,7.4],[100.2,6.9],[101.5,7.7],[102.9,7.1],[104.3,7.8],[105.6,7.0],[99.6,7.9],[103.6,6.6],
[98.2,8.6],[99.5,9.3],[100.8,8.4],[102.1,9.2],[103.4,8.5],[104.7,9.4],[106.0,8.7],[101.5,8.9],[105.3,8.2],
[97.9,10.2],[99.2,10.8],[100.5,9.9],[101.8,10.7],[103.1,10.1],[104.4,10.9],[105.7,10.3],[106.6,10.8],[102.5,10.4],[99.9,10.5],
[98.1,11.7],[99.4,12.3],[100.7,11.4],[102.0,12.2],[103.3,11.6],[104.6,12.4],[105.9,11.8],[101.4,11.9],[104.0,11.2],
[98.6,13.2],[99.9,13.8],[101.2,12.9],[102.5,13.7],[103.8,13.1],[105.1,13.9],[100.6,13.4],[104.4,12.7],
[99.4,14.6],[100.7,15.2],[102.0,14.4],[103.3,15.1],[104.5,14.7],[101.6,15.0],
[100.5,16.2],[101.8,16.8],[103.1,16.1],[102.4,15.9]
];

// ellipse gates: centre x, y, major half-axis (dx, dy), minor half-axis (dx, dy)
var gatesB = [[78.5, 34.8, 20.55, 28.8, 10.8, -6.1], [102.9, 14.1, 2.15, 10.86, 11.2, -1.76]];

var noteBText = ['Grapevine nuclei', 'Tomato nuclei'];
var noteBX = [116.0, 120.0];
var noteBY = [99.4, 51.2];
var arrowsB = [[116.0, 91.5, 98.6, 66.8], [118.8, 43.8, 109.7, 26.0]];

// ---------- styling ----------
var AXIS_FONT = '"DejaVu Sans Condensed", "DejaVu Sans", sans-serif';
var NOTE_FONT = '"Open Sans", "Noto Sans", sans-serif';
var GREY = '#5c5c5c';
var AXIS_COLOR = '#555555';

function kLabel(v) { return v === 0 ? '0' : v + 'K'; }

function makeAxis(gridIndex, ticks, isX, name, fmt, namePad, nameGap) {
  return {
    gridIndex: gridIndex,
    type: 'value',
    min: ticks[0], max: ticks[1], interval: ticks[2],
    name: name,
    nameLocation: 'middle',
    nameGap: nameGap,
    nameRotate: isX ? 0 : 90,
    nameTextStyle: { fontFamily: AXIS_FONT, fontSize: 57, color: GREY, padding: namePad },
    axisLine: { show: true, onZero: false, lineStyle: { color: AXIS_COLOR, width: 3 } },
    axisTick: { show: true, length: 19, lineStyle: { color: AXIS_COLOR, width: 3 } },
    minorTick: { show: true, splitNumber: 5, length: 15, lineStyle: { color: AXIS_COLOR, width: 3 } },
    splitLine: { show: false },
    axisLabel: {
      formatter: fmt, margin: isX ? 24 : 30,
      fontFamily: AXIS_FONT, fontSize: 47, color: GREY
    }
  };
}

function renderGate(params, api) {
  var lo = api.value(0), hi = api.value(1), bar = api.value(2), top = api.value(3);
  var a1 = api.coord([lo, top]), a2 = api.coord([lo, 0]);
  var b1 = api.coord([hi, top]), b2 = api.coord([hi, 0]);
  var l = api.coord([lo, bar]), r = api.coord([hi, bar]);
  var st = { stroke: '#1b1b1b', lineWidth: 8 };
  var sq = 30;
  return { type: 'group', children: [
    { type: 'line', shape: { x1: a1[0], y1: a1[1], x2: a2[0], y2: a2[1] }, style: st },
    { type: 'line', shape: { x1: b1[0], y1: b1[1], x2: b2[0], y2: b2[1] }, style: st },
    { type: 'line', shape: { x1: l[0], y1: l[1], x2: r[0], y2: r[1] }, style: st },
    { type: 'rect', shape: { x: l[0] - sq / 2, y: l[1] - sq / 2, width: sq, height: sq }, style: { fill: '#1b1b1b' } },
    { type: 'rect', shape: { x: r[0] - sq / 2, y: r[1] - sq / 2, width: sq, height: sq }, style: { fill: '#1b1b1b' } }
  ]};
}

function renderGateLabel(params, api) {
  var p = api.coord([api.value(0), api.value(1)]);
  return { type: 'text', style: {
    x: p[0], y: p[1], text: gateG1Label, align: 'center', verticalAlign: 'middle',
    fontFamily: AXIS_FONT, fontSize: 37, lineHeight: 41, fill: '#4a4a4a',
    backgroundColor: '#ffffff', padding: [12, 8]
  }};
}

function noteRenderer(texts, sizes, aligns) {
  return function (params, api) {
    var p = api.coord([api.value(0), api.value(1)]);
    var i = params.dataIndex;
    return { type: 'text', style: {
      x: p[0], y: p[1], text: texts[i], align: aligns[i], verticalAlign: 'middle',
      fontFamily: NOTE_FONT, fontSize: sizes[i], fill: '#1c1c1c'
    }};
  };
}

function arrowRenderer(headLen, headHalf, width) {
  return function (params, api) {
    var a = api.coord([api.value(0), api.value(1)]);
    var b = api.coord([api.value(2), api.value(3)]);
    var dx = b[0] - a[0], dy = b[1] - a[1];
    var len = Math.sqrt(dx * dx + dy * dy);
    var ux = dx / len, uy = dy / len;
    var bx = b[0] - ux * headLen, by = b[1] - uy * headLen;
    return { type: 'group', children: [
      { type: 'line', shape: { x1: a[0], y1: a[1], x2: bx + ux * 4, y2: by + uy * 4 }, style: { stroke: '#111', lineWidth: width } },
      { type: 'polygon', shape: { points: [[b[0], b[1]], [bx - uy * headHalf, by + ux * headHalf], [bx + uy * headHalf, by - ux * headHalf]] }, style: { fill: '#111' } }
    ]};
  };
}

function renderEllipse(params, api) {
  var cx = api.value(0), cy = api.value(1);
  var ux = api.value(2), uy = api.value(3), vx = api.value(4), vy = api.value(5);
  var pts = [];
  for (var i = 0; i < 144; i++) {
    var t = i / 144 * Math.PI * 2;
    pts.push(api.coord([cx + Math.cos(t) * ux + Math.sin(t) * vx, cy + Math.cos(t) * uy + Math.sin(t) * vy]));
  }
  return { type: 'polygon', shape: { points: pts }, style: { fill: 'none', stroke: '#111', lineWidth: 7 } };
}

function dots(name, data, color, size, z) {
  return {
    name: name, type: 'scatter', xAxisIndex: 1, yAxisIndex: 1,
    data: data, symbol: 'circle', symbolSize: size, z: z,
    itemStyle: { color: color, opacity: 1 }, silent: true
  };
}

var histData = histX.map(function (x, i) { return [x, histCount[i]]; });

var chart = echarts.init(document.getElementById('main'));
chart.setOption({
  animation: false,
  backgroundColor: '#ffffff',
  grid: [
    { left: 246, top: 133, width: 1162, height: 1320 },
    { left: 1842, top: 133, width: 1173, height: 1320 }
  ],
  graphic: [
    { type: 'text', left: 8, top: 6, style: { text: 'A', fontFamily: '"Liberation Sans", Arial, sans-serif', fontWeight: 'bold', fontSize: 77, fill: '#000' } },
    { type: 'text', left: 1624, top: 6, style: { text: 'B', fontFamily: '"Liberation Sans", Arial, sans-serif', fontWeight: 'bold', fontSize: 77, fill: '#000' } },
    { type: 'text', x: 795, y: 48, style: { text: 'Mix stained nuclei', align: 'center', verticalAlign: 'middle', fontFamily: AXIS_FONT, fontSize: 58, fill: GREY } },
    { type: 'text', x: 2392, y: 48, style: { text: 'Mix stained nuclei', align: 'center', verticalAlign: 'middle', fontFamily: AXIS_FONT, fontSize: 58, fill: GREY } }
  ],
  xAxis: [
    makeAxis(0, histTicksX, true, 'PI_DNA-A', kLabel, [0, 72, 0, 0], 76),
    makeAxis(1, dotTicks, true, 'PI_DNA-A', kLabel, [0, 78, 0, 0], 76)
  ],
  yAxis: [
    makeAxis(0, histTicksY, false, 'Event Count', function (v) { return String(v); }, [0, 0, 0, 0], 178),
    makeAxis(1, dotTicks, false, 'SSC-A', kLabel, [0, 0, 0, 268], 168)
  ],
  series: [
    {
      name: 'PI_DNA-A histogram', type: 'line', xAxisIndex: 0, yAxisIndex: 0,
      data: histData, smooth: 0.2, symbol: 'none', z: 2,
      lineStyle: { color: '#3553b4', width: 5 },
      areaStyle: { color: '#a3b1dc', opacity: 1 }
    },
    { type: 'custom', xAxisIndex: 0, yAxisIndex: 0, z: 3, silent: true, data: [gateG1], renderItem: renderGate },
    { type: 'custom', xAxisIndex: 0, yAxisIndex: 0, z: 4, silent: true, data: [gateG1LabelAt], renderItem: renderGateLabel },
    { type: 'custom', xAxisIndex: 0, yAxisIndex: 0, z: 5, silent: true, data: arrowsA, renderItem: arrowRenderer(26, 14, 5) },
    { type: 'custom', xAxisIndex: 0, yAxisIndex: 0, z: 5, silent: true,
      data: noteAX.map(function (x, i) { return [x, noteAY[i]]; }),
      renderItem: noteRenderer(noteAText, [60, 78, 78], ['center', 'left', 'left']) },

    dots('blue sparse', blueSparse, '#3d4fb4', 7, 2),
    dots('blue mid', blueMid, '#3d4fb4', 10, 2),
    dots('blue dense', blueDense, '#3d4fb4', 13, 2),
    dots('green', greenGrape.concat(greenTomato), '#37b34a', 13, 3),
    dots('yellow', yellowGrape.concat(yellowTomato), '#e6e81e', 13, 4),
    dots('red grapevine', redGrape, '#ee2020', 11, 5),
    dots('red tomato', redTomato, '#ee2020', 15, 5),
    { type: 'custom', xAxisIndex: 1, yAxisIndex: 1, z: 6, silent: true, data: gatesB, renderItem: renderEllipse },
    { type: 'custom', xAxisIndex: 1, yAxisIndex: 1, z: 7, silent: true, data: arrowsB, renderItem: arrowRenderer(34, 15, 6) },
    { type: 'custom', xAxisIndex: 1, yAxisIndex: 1, z: 7, silent: true,
      data: noteBX.map(function (x, i) { return [x, noteBY[i]]; }),
      renderItem: noteRenderer(noteBText, [78, 78], ['left', 'left']) }
  ]
});
</script>
</body>
</html>
